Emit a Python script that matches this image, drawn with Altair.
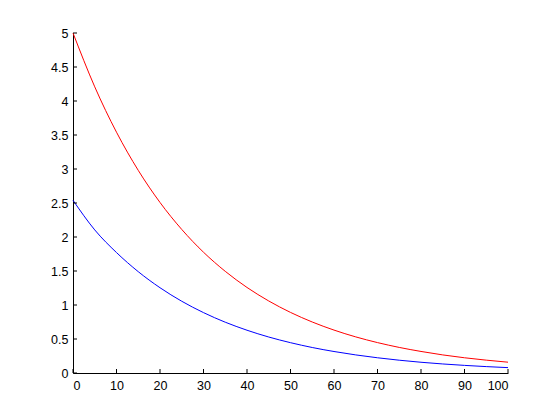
import altair as alt
import pandas as pd

xs = [0, 5, 10, 15, 20, 25, 30, 35, 40, 45, 50, 55, 60, 65, 70, 75, 80, 85, 90, 95, 100]
red = [5.00, 4.208, 3.541, 2.980, 2.508, 2.111, 1.776, 1.495, 1.258, 1.059, 0.891, 0.750, 0.631, 0.531, 0.447, 0.376, 0.317, 0.266, 0.224, 0.189, 0.159]
blue = [2.54, 2.104, 1.771, 1.490, 1.254, 1.055, 0.888, 0.747, 0.629, 0.529, 0.446, 0.375, 0.316, 0.266, 0.224, 0.188, 0.158, 0.133, 0.112, 0.094, 0.079]
x_ticks = [0, 10, 20, 30, 40, 50, 60, 70, 80, 90, 100]
y_ticks = [0, 0.5, 1, 1.5, 2, 2.5, 3, 3.5, 4, 4.5, 5]

df = pd.concat([
    pd.DataFrame({"x": xs, "y": red, "s": "red"}),
    pd.DataFrame({"x": xs, "y": blue, "s": "blue"}),
])

W, H = 435, 340
font = "Liberation Sans"

xscale = alt.Scale(domain=[0, 100], nice=False, zero=False)
yscale = alt.Scale(domain=[0, 5], nice=False, zero=False)

axis_common = dict(ticks=False, grid=False, domainColor="black", domainWidth=1,
                   labelColor="black", labelFont=font, labelFontSize=12.5,
                   labelOverlap=False, labelExpr="datum.value + ''")
x_axis = alt.Axis(values=x_ticks, labelPadding=6, **axis_common)
y_axis = alt.Axis(values=y_ticks, labelPadding=5, **axis_common)

lines = alt.Chart(df).mark_line(strokeWidth=1, interpolate="monotone").encode(
    x=alt.X("x:Q", scale=xscale, title=None, axis=x_axis),
    y=alt.Y("y:Q", scale=yscale, title=None, axis=y_axis),
    color=alt.Color("s:N", scale=alt.Scale(domain=["red", "blue"], range=["#ff0000", "#0000ff"]), legend=None),
    detail="s:N",
)

xt = alt.Chart(pd.DataFrame({"t": x_ticks})).mark_rule(color="black", strokeWidth=1).encode(
    x=alt.X("t:Q", scale=xscale, title=None, axis=x_axis),
    y=alt.value(H),
    y2=alt.value(H - 4),
)
yt = alt.Chart(pd.DataFrame({"t": y_ticks})).mark_rule(color="black", strokeWidth=1).encode(
    y=alt.Y("t:Q", scale=yscale, title=None, axis=y_axis),
    x=alt.value(0),
    x2=alt.value(4),
)

chart = alt.layer(lines, xt, yt).properties(
    width=W, height=H,
    autosize=alt.AutoSizeParams(type="none"),
    padding={"left": 65, "top": 25, "right": 36, "bottom": 35},
    background="white",
).configure_view(stroke=None, strokeWidth=0)

chart.save("out.html", embed_options={"renderer": "svg", "actions": False})
